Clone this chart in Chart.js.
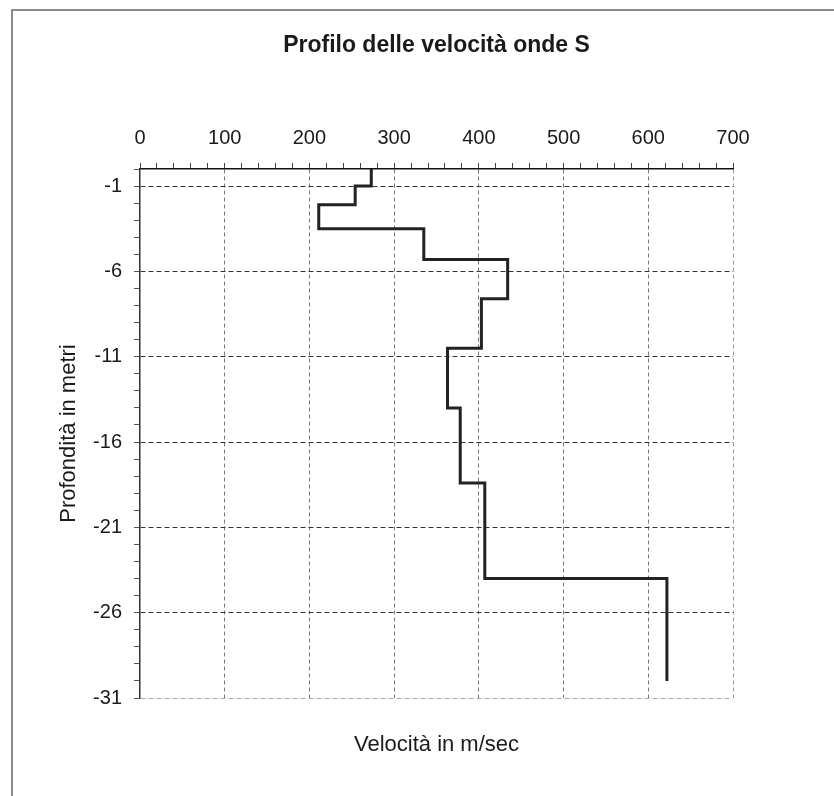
<!DOCTYPE html>
<html>
<head>
<meta charset="utf-8">
<script src="https://cdn.jsdelivr.net/npm/chart.js@4/dist/chart.umd.min.js"></script>
<style>
  body { margin: 0; background: #fff; }
  #frame { position: absolute; left: 11px; top: 9px; width: 900px; height: 900px;
           border-left: 2px solid #8a8a8a; border-top: 2px solid #8a8a8a; }
  #wrap { position: absolute; left: 0; top: 0; width: 834px; height: 796px; }
</style>
</head>
<body>
<div id="frame"></div>
<div id="wrap"><canvas id="profilo" width="834" height="796"></canvas></div>
<script>
// strati: profondità (m) di inizio e fine, velocità onde S (m/sec)
var depthTop    = [0, -1, -2.1, -3.5, -5.3, -7.6, -10.5, -14, -18.4, -24];
var depthBottom = [-1, -2.1, -3.5, -5.3, -7.6, -10.5, -14, -18.4, -24, -30];
var velocity    = [273, 254, 211, 335, 434, 403, 363, 378, 407, 622];

// etichette degli assi
var xTickLabels = [0, 100, 200, 300, 400, 500, 600, 700];
var yTickLabels = [-1, -6, -11, -16, -21, -26, -31];

// punti del profilo a gradini
var points = [];
for (var i = 0; i < velocity.length; i++) {
    points.push({ x: velocity[i], y: depthTop[i] });
    points.push({ x: velocity[i], y: depthBottom[i] });
}

var font = "'Liberation Sans', Arial, sans-serif";
var ctx = document.getElementById('profilo').getContext('2d');

// tacche secondarie: passo fisso, etichetta solo sui valori principali
function minorTicks(step) {
    return function (scale) {
        var t = [];
        for (var v = scale.min; v <= scale.max + 1e-9; v += step) {
            t.push({ value: Math.round(v * 100) / 100 });
        }
        scale.ticks = t;
    };
}

var myChart = new Chart(ctx, {
    type: 'scatter',
    data: {
        datasets: [{
            data: points,
            showLine: true,
            borderColor: '#222',
            borderWidth: 3,
            pointRadius: 0,
            pointHoverRadius: 0,
            fill: false,
            tension: 0
        }]
    },
    options: {
        responsive: false,
        animation: false,
        layout: { padding: { left: 0, right: 101, top: 0, bottom: 0 } },
        plugins: {
            legend: { display: false },
            tooltip: { enabled: false },
            title: {
                display: true,
                fullSize: false,
                text: 'Profilo delle velocità onde S',
                color: '#1a1a1a',
                font: { family: font, size: 23, weight: 'bold', lineHeight: 1.2 },
                padding: { top: 31.5, bottom: 10 }
            },
            subtitle: {
                display: true,
                fullSize: false,
                position: 'bottom',
                text: 'Velocità in m/sec',
                color: '#1a1a1a',
                font: { family: font, size: 22, weight: 'normal', lineHeight: 1.2 },
                padding: { top: 33.8, bottom: 37.8 }
            }
        },
        scales: {
            x: {
                type: 'linear',
                position: 'top',
                min: 0,
                max: 700,
                afterBuildTicks: minorTicks(20),
                afterFit: function (scale) { scale.height = 99.9; },
                ticks: {
                    autoSkip: false,
                    maxRotation: 0,
                    padding: 13,
                    color: '#1a1a1a',
                    font: { family: font, size: 20, lineHeight: 1.2 },
                    callback: function (v) { return xTickLabels.indexOf(v) >= 0 ? String(v) : ''; }
                },
                grid: {
                    tickLength: 6,
                    tickColor: '#444',
                    lineWidth: 1,
                    color: function (c) {
                        var v = c.tick && c.tick.value;
                        if (v === 700) return '#999';
                        return xTickLabels.indexOf(v) >= 0 && v !== 0 ? '#777' : 'transparent';
                    }
                },
                border: { display: true, color: '#111', width: 1.5, dash: [4, 3] }
            },
            y: {
                type: 'linear',
                min: -31,
                max: 0,
                afterBuildTicks: minorTicks(1),
                afterFit: function (scale) { scale.width = 140; },
                title: {
                    display: true,
                    text: 'Profondità in metri',
                    color: '#1a1a1a',
                    font: { family: font, size: 22, lineHeight: 1.2 },
                    padding: { top: 56, bottom: 0 }
                },
                ticks: {
                    autoSkip: false,
                    padding: 12,
                    color: '#1a1a1a',
                    font: { family: font, size: 20, lineHeight: 1.2 },
                    callback: function (v) { return yTickLabels.indexOf(v) >= 0 ? String(v) : ''; }
                },
                grid: {
                    tickLength: 6,
                    tickColor: '#555',
                    lineWidth: 1,
                    color: function (c) {
                        var v = c.tick && c.tick.value;
                        if (v === -31) return '#aaa';
                        return yTickLabels.indexOf(v) >= 0 ? '#333' : 'transparent';
                    }
                },
                border: { display: true, color: '#333', width: 1.5, dash: [5, 3] }
            }
        }
    }
});
</script>
</body>
</html>
